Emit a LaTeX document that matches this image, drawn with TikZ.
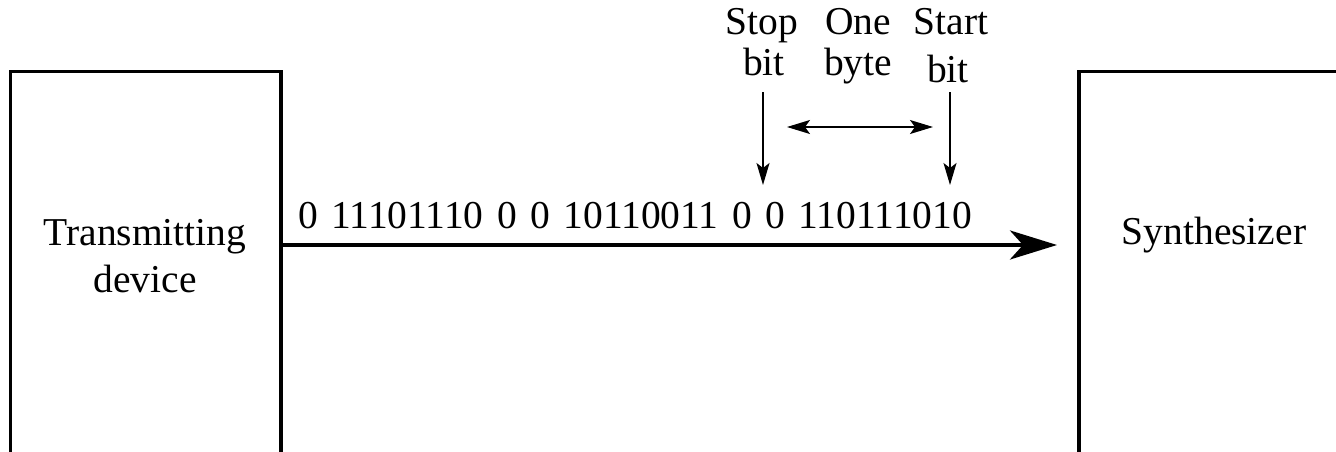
\documentclass[tikz,border=0pt]{standalone}
\usepackage{fontspec}
\setmainfont{Liberation Serif}
\usetikzlibrary{arrows.meta}
\begin{document}
\begin{tikzpicture}[x=1pt,y=-1pt,
  boxline/.style={line width=3.4pt},
  lbl/.style={font=\fontsize{39.5}{47}\selectfont, inner sep=0pt, anchor=base},
  mainarrow/.style={line width=3.6pt, -{Stealth[length=47pt,width=29pt,inset=13pt]}},
  thinarrow/.style={line width=1.4pt, -{Stealth[length=22pt,width=13pt,inset=5pt]}},
  dblarrow/.style={line width=1.4pt, {Stealth[length=23pt,width=14pt,inset=5pt]}-{Stealth[length=23pt,width=14pt,inset=5pt]}}]
\useasboundingbox (0,0) rectangle (1336,452);
\fill[white] (0,0) rectangle (1336,452);
% boxes (open at bottom)
\draw[boxline] (10.5,460) -- (10.5,71.5) -- (281,71.5) -- (281,460);
\draw[boxline] (1079,460) -- (1079,71.5) -- (1345,71.5);
% box texts
\node[lbl] (tx1) at (145,245) {Transmitting};
\node[lbl] (tx2) at (145,292) {device};
\node[lbl] (syn) at (1214,244) {Synthesizer};
% data stream
\coordinate (out) at (281,245);
\coordinate (in) at (1057,245);
\draw[mainarrow] (out) -- (in);
\node[lbl, anchor=base west] (data) at (298,228) {\spaceskip=13.5pt 0 11101110 0 0 10110011 0 0 110111010};
% top labels
\node[lbl] (stop1) at (762,35) {Stop};
\node[lbl] (stop2) at (764,75) {bit};
\node[lbl] (one1) at (858,35) {One};
\node[lbl] (one2) at (858,75) {byte};
\node[lbl] (start1) at (951,35) {Start};
\node[lbl] (start2) at (948,82) {bit};
% arrows
\coordinate (stopend) at (763,185);
\coordinate (startend) at (950,185);
\draw[thinarrow] (763,92) -- (stopend);
\draw[thinarrow] (950,92) -- (startend);
\coordinate (bl) at (787,127);
\coordinate (br) at (933,127);
\draw[dblarrow] (bl) -- (br);
\end{tikzpicture}
\end{document}
